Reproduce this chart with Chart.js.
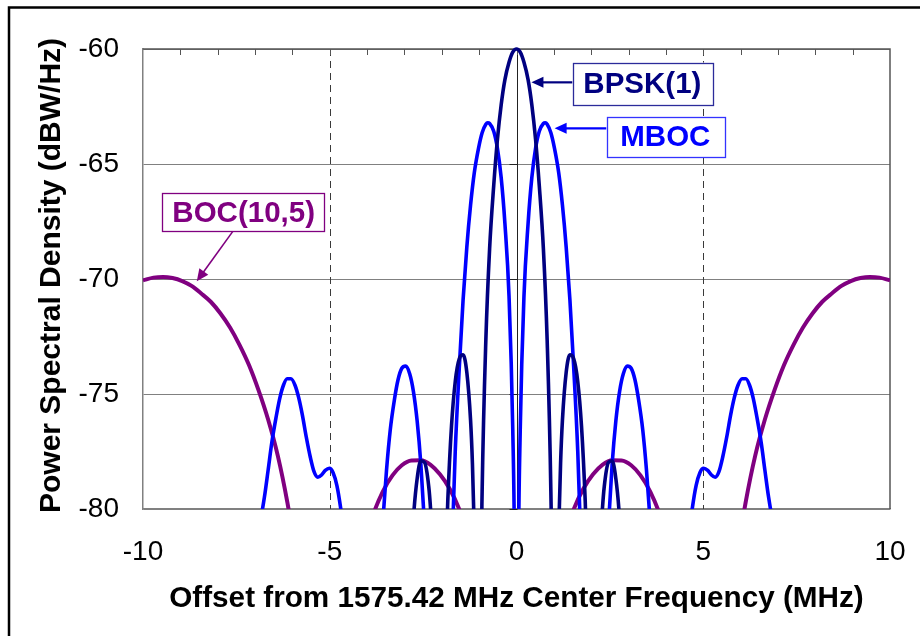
<!DOCTYPE html>
<html>
<head>
<meta charset="utf-8">
<script src="https://cdn.jsdelivr.net/npm/chart.js@4.4.1/dist/chart.umd.min.js"></script>
<style>
    html, body { margin: 0; padding: 0; background: #ffffff; }
    #chart-wrap { width: 920px; height: 636px; }
</style>
</head>
<body>
<div id="chart-wrap"><canvas id="psd-chart" width="920" height="636"></canvas></div>
<script>
// Offset from 1575.42 MHz (MHz) and PSD (dBW/Hz).
// Nulls run far below the -80 floor, so they are given as -100.
const bpskFreq = [
    -10, -4.09, -3.58, -3.07, -2.86, -2.76, -2.66, -2.56, -2.46, -2.35, -2.30, -2.25, -2.15, -2.05,
    -1.94, -1.89, -1.84, -1.74, -1.64, -1.53, -1.43, -1.33, -1.23, -1.18, -1.13, -1.07, -1.02,
    -0.97, -0.92, -0.82, -0.72, -0.61, -0.51, -0.41, -0.31, -0.20, -0.10, 0,
    0.10, 0.20, 0.31, 0.41, 0.51, 0.61, 0.72, 0.82, 0.92, 0.97,
    1.02, 1.07, 1.13, 1.18, 1.23, 1.33, 1.43, 1.53, 1.64, 1.74, 1.84, 1.89, 1.94,
    2.05, 2.15, 2.25, 2.30, 2.35, 2.46, 2.56, 2.66, 2.76, 2.86, 3.07, 3.58, 4.09, 10,
];
const bpskPsd = [
    -100, -100, -80.8, -100, -83.5, -80.41, -78.68, -77.90, -77.98, -79.02, -80.00, -81.41, -86.6, -100,
    -85.7, -82.15, -79.66, -76.39, -74.46, -73.46, -73.30, -74.06, -76.14, -78.02, -80.97, -86.5, -100,
    -85.6, -79.23, -72.62, -68.69, -65.94, -63.92, -62.42, -61.33, -60.58, -60.14, -60.00,
    -60.14, -60.58, -61.33, -62.42, -63.92, -65.94, -68.69, -72.62, -79.23, -85.6,
    -100, -86.5, -80.97, -78.02, -76.14, -74.06, -73.30, -73.46, -74.46, -76.39, -79.66, -82.15, -85.7,
    -100, -86.6, -81.41, -80.00, -79.02, -77.98, -77.90, -78.68, -80.41, -83.5, -100, -80.8, -100, -100,
];

const mbocFreq = [
    -10, -8.18, -7.67, -7.16, -6.96, -6.85, -6.75, -6.65, -6.55, -6.44, -6.34, -6.24, -6.14, -6.04,
    -5.93, -5.83, -5.73, -5.63, -5.52, -5.42, -5.32, -5.22, -5.12, -5.01, -4.91, -4.81, -4.71, -4.60,
    -4.50, -4.30, -4.09, -3.89, -3.68, -3.58, -3.48, -3.38, -3.27, -3.17, -3.07, -2.97, -2.86, -2.76,
    -2.66, -2.56, -2.46, -2.35, -2.25, -2.05, -1.84, -1.74, -1.64, -1.53, -1.43, -1.33, -1.23, -1.13,
    -1.02, -0.92, -0.82, -0.77, -0.72, -0.61, -0.51, -0.41, -0.31, -0.20, -0.10, -0.05, 0,
    0.05, 0.10, 0.20, 0.31, 0.41, 0.51, 0.61, 0.72, 0.77, 0.82, 0.92, 1.02,
    1.13, 1.23, 1.33, 1.43, 1.53, 1.64, 1.74, 1.84, 2.05, 2.25, 2.35, 2.46, 2.56, 2.66,
    2.76, 2.86, 2.97, 3.07, 3.17, 3.27, 3.38, 3.48, 3.58, 3.68, 3.89, 4.09, 4.30, 4.50,
    4.60, 4.71, 4.81, 4.91, 5.01, 5.12, 5.22, 5.32, 5.42, 5.52, 5.63, 5.73, 5.83, 5.93,
    6.04, 6.14, 6.24, 6.34, 6.44, 6.55, 6.65, 6.75, 6.85, 6.96, 7.16, 7.67, 8.18, 10,
];
const mbocPsd = [
    -100, -100, -85.9, -81.24, -80.95, -80.42, -79.49, -78.31, -77.10, -76.04, -75.20, -74.62, -74.34, -74.34,
    -74.62, -75.17, -75.94, -76.86, -77.75, -78.38, -78.62, -78.52, -78.32, -78.23, -78.42, -78.97, -79.94, -81.43,
    -83.5, -90.5, -100, -91.2, -83.36, -80.56, -78.31, -76.56, -75.26, -74.37, -73.88, -73.79, -74.12, -74.89,
    -76.17, -78.07, -80.76, -84.56, -90.1, -100, -88.9, -82.30, -77.49, -73.80, -70.91, -68.61, -66.79, -65.38,
    -64.34, -63.64, -63.27, -63.21, -63.24, -63.58, -64.33, -65.60, -67.59, -70.75, -76.55, -82.5, -100,
    -82.5, -76.55, -70.75, -67.59, -65.60, -64.33, -63.58, -63.24, -63.21, -63.27, -63.64, -64.34,
    -65.38, -66.79, -68.61, -70.91, -73.80, -77.49, -82.30, -88.9, -100, -90.1, -84.56, -80.76, -78.07, -76.17,
    -74.89, -74.12, -73.79, -73.88, -74.37, -75.26, -76.56, -78.31, -80.56, -83.36, -91.2, -100, -90.5, -83.5,
    -81.43, -79.94, -78.97, -78.42, -78.23, -78.32, -78.52, -78.62, -78.38, -77.75, -76.86, -75.94, -75.17, -74.62,
    -74.34, -74.34, -74.62, -75.20, -76.04, -77.10, -78.31, -79.49, -80.42, -80.95, -81.24, -85.9, -100, -100,
];

const bocFreq = [
    -10, -9.72, -9.46, -9.21, -8.95, -8.70, -8.44, -8.18, -7.93, -7.67, -7.42, -7.16, -6.91, -6.65,
    -6.39, -6.14, -5.88, -5.63, -5.12, -4.60, -4.09, -3.84, -3.58, -3.32, -3.07, -2.81, -2.56, -2.30,
    -2.05, -1.79, -1.53, -1.28, -1.02, -0.51, 0,
    0.51, 1.02, 1.28, 1.53, 1.79, 2.05, 2.30, 2.56, 2.81, 3.07, 3.32, 3.58, 3.84, 4.09, 4.60,
    5.12, 5.63, 5.88, 6.14, 6.39, 6.65, 6.91, 7.16, 7.42, 7.67, 7.93, 8.18, 8.44, 8.70, 8.95,
    9.21, 9.46, 9.72, 10,
];
const bocPsd = [
    -70.06, -69.94, -69.91, -69.96, -70.09, -70.30, -70.63, -71.00, -71.49, -72.11, -72.85, -73.75, -74.82, -76.11,
    -77.69, -79.67, -82.25, -85.9, -100, -86.9, -81.70, -80.26, -79.24, -78.54, -78.10, -77.89, -77.88, -78.08,
    -78.49, -79.12, -80.02, -81.24, -82.89, -88.5, -100,
    -88.5, -82.89, -81.24, -80.02, -79.12, -78.49, -78.08, -77.88, -77.89, -78.10, -78.54, -79.24, -80.26, -81.70, -86.9,
    -100, -85.9, -82.25, -79.67, -77.69, -76.11, -74.82, -73.75, -72.85, -72.11, -71.49, -71.00, -70.63, -70.30, -70.09,
    -69.96, -69.91, -69.94, -70.06,
];

const xTicks = [-10, -5, 0, 5, 10];
const yTicks = [-80, -75, -70, -65, -60];

const xTitle = "Offset from 1575.42 MHz Center Frequency (MHz)";
const yTitle = "Power Spectral Density (dBW/Hz)";

const fontFamily = "'Liberation Sans', Arial, Helvetica, sans-serif";

// callout boxes, in data units: [left, top, right, bottom], arrow from -> to
const callouts = [
    { text: "BPSK(1)", color: "#000080", edge: "#2b2b9a", box: [1.50, -60.59, 5.24, -62.43],
      from: [1.50, -61.45], to: [0.40, -61.45], arrowWidth: 2.2 },
    { text: "MBOC", color: "#0000ff", edge: "#3333ff", box: [2.41, -62.96, 5.56, -64.68],
      from: [2.41, -63.45], to: [1.02, -63.45], arrowWidth: 2.2 },
    { text: "BOC(10,5)", color: "#800080", edge: "#800080", box: [-9.48, -66.27, -5.13, -67.94],
      from: [-7.60, -67.94], to: [-8.56, -70.10], arrowWidth: 1.6 },
];

function toPoints(xs, ys) {
    return xs.map((x, i) => ({ x: x, y: ys[i] }));
}

const plotFramePlugin = {
    id: "plotFrame",
    beforeDraw(chart) {
        const ctx = chart.ctx;
        ctx.save();
        ctx.fillStyle = "#ffffff";
        ctx.fillRect(0, 0, chart.width, chart.height);
        ctx.restore();
    },
    beforeDatasetsDraw(chart) {
        const { ctx, chartArea, scales } = chart;
        const xScale = scales.x;
        const yScale = scales.y;
        ctx.save();
        // dashed verticals at the major ticks
        ctx.strokeStyle = "#3a3a3a";
        ctx.lineWidth = 1;
        ctx.setLineDash([7, 5]);
        [-5, 5].forEach((v) => {
            const px = Math.round(xScale.getPixelForValue(v)) + 0.5;
            ctx.beginPath();
            ctx.moveTo(px, chartArea.top);
            ctx.lineTo(px, chartArea.bottom);
            ctx.stroke();
        });
        ctx.setLineDash([]);
        // value axis crossing at 0
        const zeroPx = Math.round(xScale.getPixelForValue(0)) + 0.5;
        ctx.strokeStyle = "#222222";
        ctx.beginPath();
        ctx.moveTo(zeroPx, chartArea.top);
        ctx.lineTo(zeroPx, chartArea.bottom);
        ctx.stroke();
        yTicks.forEach((v) => {
            const py = Math.round(yScale.getPixelForValue(v)) + 0.5;
            ctx.beginPath();
            ctx.moveTo(zeroPx - 8, py);
            ctx.lineTo(zeroPx, py);
            ctx.stroke();
        });
        // top and right edges, minor ticks along the top
        ctx.strokeStyle = "#555555";
        ctx.lineWidth = 1.5;
        ctx.beginPath();
        ctx.moveTo(chartArea.left, chartArea.top);
        ctx.lineTo(chartArea.right, chartArea.top);
        ctx.lineTo(chartArea.right, chartArea.bottom);
        ctx.stroke();
        ctx.lineWidth = 1;
        for (let v = -9; v <= 9; v++) {
            const px = Math.round(xScale.getPixelForValue(v)) + 0.5;
            ctx.beginPath();
            ctx.moveTo(px, chartArea.top);
            ctx.lineTo(px, chartArea.top + 6);
            ctx.stroke();
        }
        ctx.restore();
    },
    afterDatasetsDraw(chart) {
        const { ctx, scales } = chart;
        const xScale = scales.x;
        const yScale = scales.y;
        ctx.save();
        callouts.forEach((c) => {
            const left = xScale.getPixelForValue(c.box[0]);
            const top = yScale.getPixelForValue(c.box[1]);
            const right = xScale.getPixelForValue(c.box[2]);
            const bottom = yScale.getPixelForValue(c.box[3]);
            const fx = xScale.getPixelForValue(c.from[0]);
            const fy = yScale.getPixelForValue(c.from[1]);
            const tx = xScale.getPixelForValue(c.to[0]);
            const ty = yScale.getPixelForValue(c.to[1]);
            const ang = Math.atan2(ty - fy, tx - fx);
            const head = 12;
            const half = 5.5;
            ctx.strokeStyle = c.color;
            ctx.fillStyle = c.color;
            ctx.lineWidth = c.arrowWidth;
            ctx.beginPath();
            ctx.moveTo(fx, fy);
            ctx.lineTo(tx - Math.cos(ang) * head * 0.8, ty - Math.sin(ang) * head * 0.8);
            ctx.stroke();
            ctx.beginPath();
            ctx.moveTo(tx, ty);
            ctx.lineTo(tx - Math.cos(ang) * head - Math.sin(ang) * half,
                       ty - Math.sin(ang) * head + Math.cos(ang) * half);
            ctx.lineTo(tx - Math.cos(ang) * head + Math.sin(ang) * half,
                       ty - Math.sin(ang) * head - Math.cos(ang) * half);
            ctx.closePath();
            ctx.fill();

            ctx.fillStyle = "#ffffff";
            ctx.fillRect(left, top, right - left, bottom - top);
            ctx.strokeStyle = c.edge;
            ctx.lineWidth = 1.3;
            ctx.strokeRect(Math.round(left) + 0.5, Math.round(top) + 0.5,
                           Math.round(right - left), Math.round(bottom - top));
            ctx.fillStyle = c.color;
            ctx.font = "bold 29.5px " + fontFamily;
            ctx.textAlign = "center";
            ctx.textBaseline = "middle";
            ctx.fillText(c.text, (left + right) / 2, (top + bottom) / 2 + 1);
        });
        ctx.restore();
    },
    afterDraw(chart) {
        const ctx = chart.ctx;
        ctx.save();
        // value-axis title: longer than the plot is tall, so drawn here untrimmed
        ctx.translate(52, 275.5);
        ctx.rotate(-Math.PI / 2);
        ctx.fillStyle = "#000000";
        ctx.font = "bold 30px " + fontFamily;
        ctx.textAlign = "center";
        ctx.textBaseline = "middle";
        ctx.fillText(yTitle, 0, 0);
        ctx.restore();

        // outer frame of the figure (only left and top fall inside the picture)
        ctx.save();
        ctx.strokeStyle = "#000000";
        ctx.lineWidth = 2.5;
        ctx.beginPath();
        ctx.moveTo(9, chart.height + 2);
        ctx.lineTo(9, 7.5);
        ctx.lineTo(chart.width + 2, 7.5);
        ctx.stroke();
        ctx.restore();
    },
};

const psdContext = document.getElementById("psd-chart");

const psdData = {
    datasets: [
        {
            label: "BPSK(1)",
            data: toPoints(bpskFreq, bpskPsd),
            borderColor: "#000080",
            borderWidth: 3.6,
            pointRadius: 0,
            cubicInterpolationMode: "monotone",
            clip: { left: 0, top: 3, right: 0, bottom: 0 },
        },
        {
            label: "MBOC",
            data: toPoints(mbocFreq, mbocPsd),
            borderColor: "#0000ff",
            borderWidth: 3.6,
            pointRadius: 0,
            cubicInterpolationMode: "monotone",
            clip: { left: 0, top: 3, right: 0, bottom: 0 },
        },
        {
            label: "BOC(10,5)",
            data: toPoints(bocFreq, bocPsd),
            borderColor: "#800080",
            borderWidth: 4,
            pointRadius: 0,
            cubicInterpolationMode: "monotone",
            clip: { left: 0, top: 3, right: 0, bottom: 0 },
        },
    ],
};

const psdConfig = {
    type: "line",
    data: psdData,
    options: {
        responsive: false,
        animation: false,
        devicePixelRatio: 1,
        layout: { padding: { left: 33, top: 49, right: 30, bottom: 19 } },
        plugins: {
            legend: { display: false },
            tooltip: { enabled: false },
        },
        scales: {
            x: {
                type: "linear",
                min: -10,
                max: 10,
                afterBuildTicks: (scale) => {
                    scale.ticks = xTicks.map((v) => ({ value: v }));
                },
                afterFit: (scale) => {
                    scale.height = 108;
                    // the layout padding already leaves room for the end labels
                    scale.paddingLeft = 0;
                    scale.paddingRight = 0;
                },
                ticks: {
                    color: "#000000",
                    padding: 26,
                    maxRotation: 0,
                    font: { family: fontFamily, size: 28 },
                },
                grid: { display: false, drawTicks: false },
                border: { display: true, color: "#808080", width: 1.5 },
                title: {
                    display: true,
                    text: xTitle,
                    color: "#000000",
                    padding: 0,
                    font: { family: fontFamily, size: 29.7, weight: "bold" },
                },
            },
            y: {
                min: -80,
                max: -60,
                afterBuildTicks: (scale) => {
                    scale.ticks = yTicks.map((v) => ({ value: v }));
                },
                afterFit: (scale) => {
                    scale.width = 110;
                },
                ticks: {
                    color: "#000000",
                    padding: 24,
                    font: { family: fontFamily, size: 28 },
                },
                grid: { color: "#808080", lineWidth: 1, drawTicks: false },
                border: { display: true, color: "#808080", width: 1.5 },
                title: { display: false },
            },
        },
    },
    plugins: [plotFramePlugin],
};

const psdChart = new Chart(psdContext, psdConfig);
</script>
</body>
</html>
